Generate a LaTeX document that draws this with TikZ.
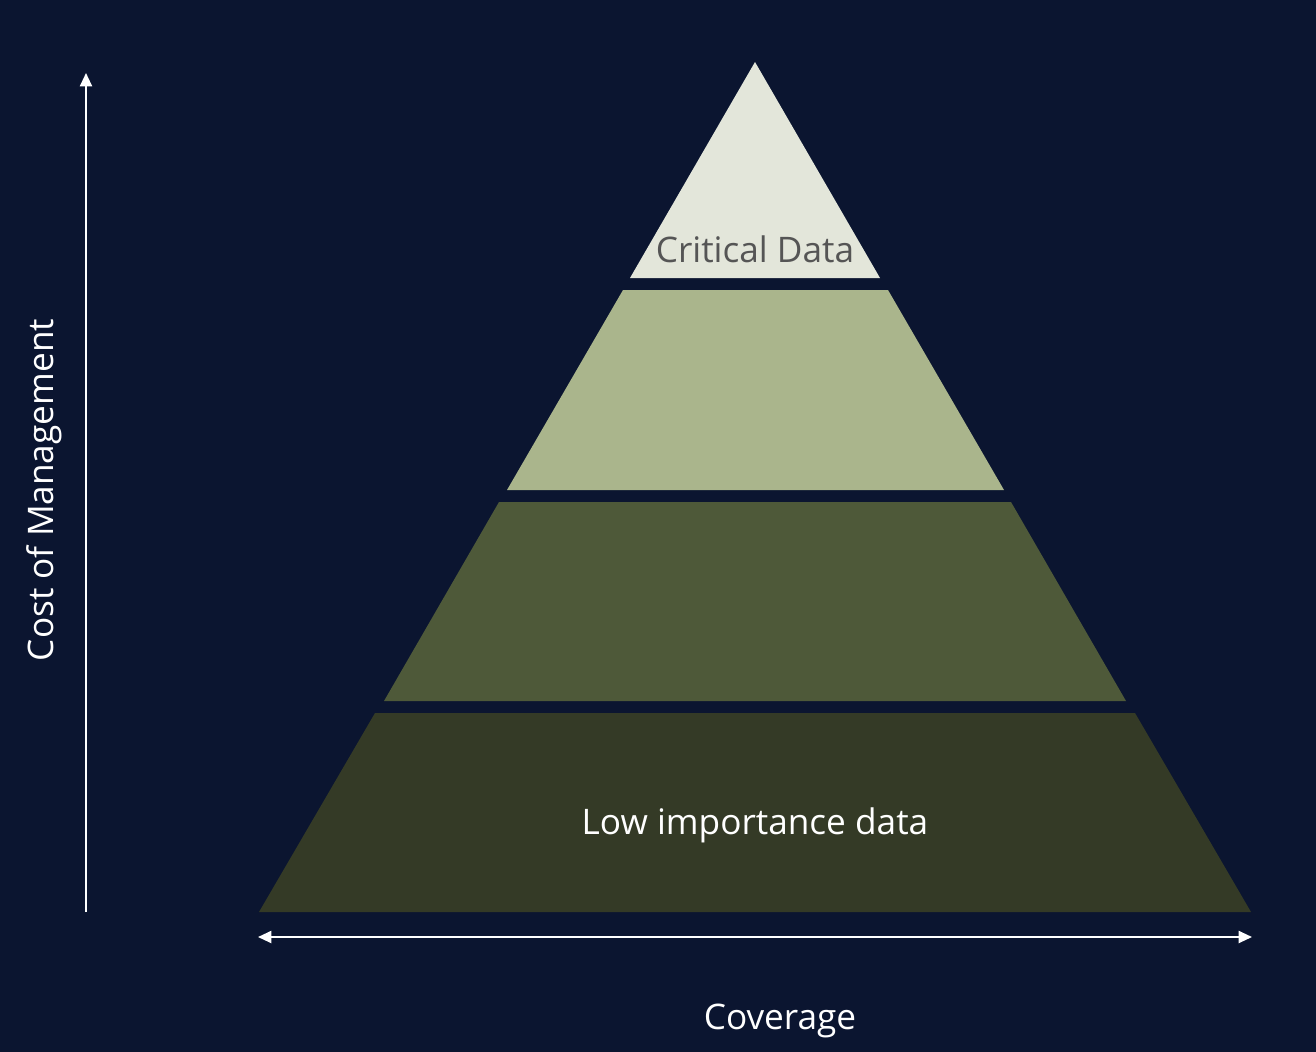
\documentclass[tikz,border=0pt]{standalone}
\usepackage{fontspec}
\setmainfont{Open Sans}
\usetikzlibrary{arrows.meta,positioning}

\definecolor{bgnavy}{HTML}{0B1530}
\definecolor{tierone}{HTML}{E3E6DA}
\definecolor{tiertwo}{HTML}{AAB58C}
\definecolor{tierthree}{HTML}{4E5939}
\definecolor{tierfour}{HTML}{343A26}
\definecolor{labelgray}{HTML}{555555}

\begin{document}
\begin{tikzpicture}[x=0.75pt,y=-0.75pt,>={Triangle[length=10pt,width=9pt]}]
  \tikzstyle{axis}=[white,line width=1.5pt]
  \tikzstyle{lbl}=[inner sep=0pt,font=\fontsize{26.4}{31}\selectfont]
  % Background
  \fill[bgnavy] (0,0) rectangle (1316,1052);
  \useasboundingbox (0,0) rectangle (1316,1052);

  % Tiers
  \fill[tierone] (755,62) -- (880,278) -- (630,278) -- cycle;
  \fill[tiertwo] (623,290) -- (888,290) -- (1004,490) -- (507,490) -- cycle;
  \fill[tierthree] (499,502) -- (1011,502) -- (1126,701) -- (384,701) -- cycle;
  \fill[tierfour] (375,713) -- (1135,713) -- (1251,912) -- (259,912) -- cycle;

  % Labels
  \node[lbl,labelgray] (crit) at (755,249) {Critical Data};
  \node[lbl,white] (low) at (755,825) {Low importance data};
  \node[lbl,white] (cov) at (780,1021) {Coverage};
  \node[lbl,white,rotate=90] (cost) at (44,490) {Cost of Management};

  % Axes
  \coordinate (ybot) at (86,912);
  \coordinate (ytop) at (86,73);
  \coordinate (xl) at (258,937);
  \coordinate (xr) at (1252,937);
  \draw[axis,->] (ybot) -- (ytop);
  \draw[axis,<->] (xl) -- (xr);
\end{tikzpicture}
\end{document}
